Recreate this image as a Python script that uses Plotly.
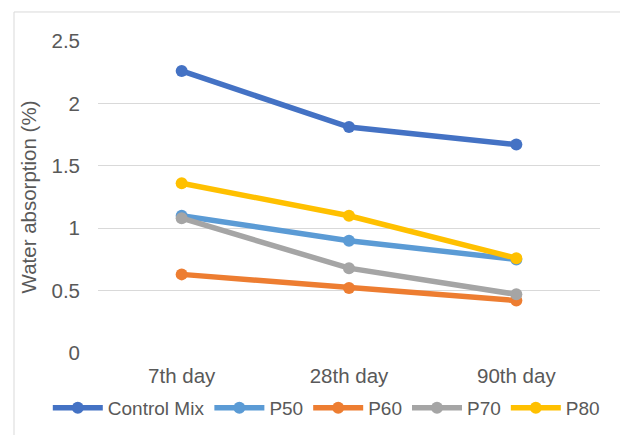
import plotly.graph_objects as go

# Water absorption (%) of the mixes at each curing age
days = ["7th day", "28th day", "90th day"]
control_mix = [2.26, 1.81, 1.67]
p50 = [1.10, 0.90, 0.75]
p60 = [0.63, 0.52, 0.42]
p70 = [1.08, 0.68, 0.47]
p80 = [1.36, 1.10, 0.76]

series_names = ["Control Mix", "P50", "P60", "P70", "P80"]
series_values = [control_mix, p50, p60, p70, p80]
series_colors = ["#4472C4", "#5B9BD5", "#ED7D31", "#A5A5A5", "#FFC000"]

y_ticks = [0, 0.5, 1, 1.5, 2, 2.5]
y_tick_text = ["0", "0.5", "1", "1.5", "2", "2.5"]

FONT = "Liberation Sans, Arial, sans-serif"
TEXT = "#595959"

fig = go.Figure()
for name, vals, col in zip(series_names, series_values, series_colors):
    fig.add_trace(go.Scatter(
        x=days, y=vals, name=name, mode="lines+markers",
        line=dict(color=col, width=5.5),
        marker=dict(color=col, size=12, symbol="circle"),
    ))

fig.update_layout(
    width=620, height=435,
    margin=dict(l=98, r=20, t=41, b=82, autoexpand=False),
    paper_bgcolor="white", plot_bgcolor="white",
    font=dict(family=FONT, color=TEXT, size=19),
    showlegend=True,
    legend=dict(
        orientation="h", x=-0.1, xanchor="left", y=-0.115, yanchor="top",
        font=dict(size=19, color=TEXT), itemwidth=50,
        traceorder="normal", bgcolor="rgba(0,0,0,0)",
        tracegroupgap=0,
    ),
    xaxis=dict(
        type="category", range=[-0.5, 2.5], showgrid=False, zeroline=False,
        showline=False, ticks="", tickfont=dict(size=20.5, color=TEXT),
        ticklabelstandoff=8, fixedrange=True,
    ),
    yaxis=dict(
        range=[0, 2.5], tickvals=y_ticks, ticktext=y_tick_text,
        showgrid=True, gridcolor="#D9D9D9", gridwidth=1.3,
        zeroline=False, showline=False, ticks="",
        tickfont=dict(size=20.5, color=TEXT), ticklabelstandoff=17,
        title=dict(text="Water absorption (%)", font=dict(size=20.5, color=TEXT), standoff=9),
        fixedrange=True,
    ),
    shapes=[dict(
        type="rect", xref="paper", yref="paper",
        x0=-0.1673, x1=1.07, y0=-0.29, y1=1.093,
        line=dict(color="#D9D9D9", width=1), fillcolor="rgba(0,0,0,0)", layer="below",
    )],
)

fig.write_html("out.html")
